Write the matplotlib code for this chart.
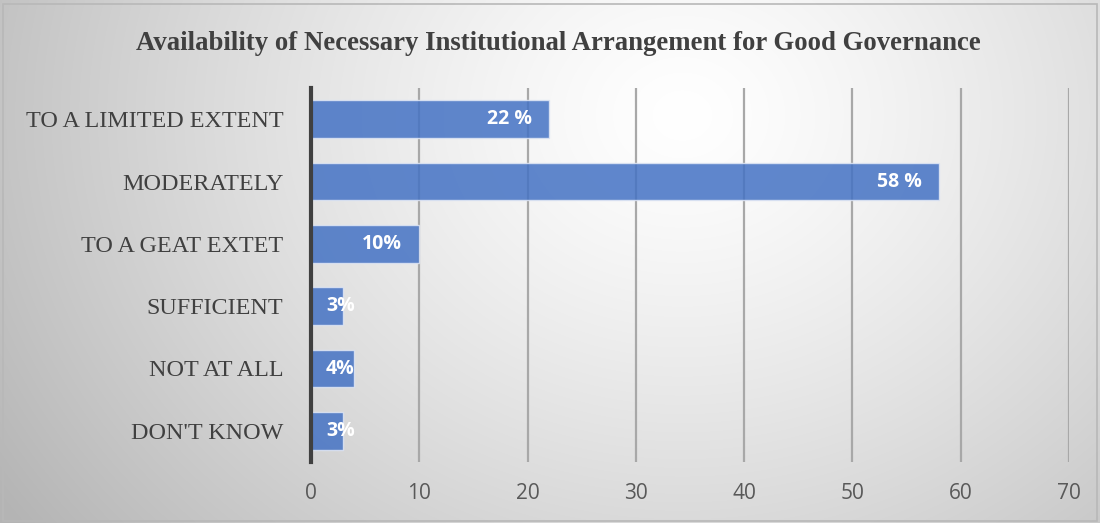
import numpy as np
import matplotlib
matplotlib.use("Agg")
import matplotlib.pyplot as plt
from matplotlib.patches import Rectangle

# survey responses, top to bottom
categories = ["TO A LIMITED EXTENT", "MODERATELY", "TO A GEAT EXTET",
              "SUFFICIENT", "NOT AT ALL", "DON'T KNOW"]
values = [22, 58, 10, 3, 4, 3]
value_labels = ["22 %", "58 %", "10%", "3%", "4%", "3%"]
x_ticks = [0, 10, 20, 30, 40, 50, 60, 70]

W, H = 1100, 523
fig = plt.figure(figsize=(W / 100, H / 100), dpi=100)

# radial grey background, lightest towards the upper middle
yy, xx = np.mgrid[0:H, 0:W]
dist = np.sqrt(((xx - 0.62 * W) / (0.62 * W)) ** 2 + ((yy - 0.22 * H) / (1.1 * H)) ** 2)
shade = 1.0 - 0.23 * np.clip(dist, 0, 1.2) ** 1.3
bg = fig.add_axes([0, 0, 1, 1], zorder=-10)
bg.imshow(np.dstack([shade] * 3), aspect="auto", extent=[0, 1, 0, 1],
          origin="upper", interpolation="bilinear")
bg.add_patch(Rectangle((0.003, 0.004), 0.994, 0.988, fill=False,
                       edgecolor="#b8b8b8", linewidth=1.2))
bg.set_axis_off()

ax = fig.add_axes([311 / W, 1 - 462 / H, 758 / W, 374 / H])
ax.set_facecolor("none")

y = np.arange(len(categories))
ax.barh(y, values, height=0.6, color="#4472C4", alpha=0.85,
        edgecolor="#dfe6f4", linewidth=1.0, zorder=3)

for yi, v, lab in zip(y, values, value_labels):
    if v >= 8:
        ax.annotate(lab, (v, yi), xytext=(-17, 0), textcoords="offset pixels",
                    ha="right", va="center", color="white", fontsize=14,
                    fontweight="bold", family="Open Sans", zorder=4)
    else:
        ax.annotate(lab, (0, yi), xytext=(15, 0), textcoords="offset pixels",
                    ha="left", va="center", color="white", fontsize=14,
                    fontweight="bold", family="Open Sans", zorder=4)

ax.set_xlim(0, 70)
ax.set_ylim(len(categories) - 0.5, -0.5)
ax.set_xticks(x_ticks)
ax.set_xticklabels([str(t) for t in x_ticks], family="Open Sans",
                   fontsize=15, color="#595959")
ax.set_yticks(y)
ax.set_yticklabels(categories, family="Liberation Serif", fontsize=17.4,
                   color="#404040")
ax.tick_params(axis="both", length=0)
ax.tick_params(axis="x", pad=15)
ax.tick_params(axis="y", pad=20)

ax.grid(axis="x", color="#a8a8a8", linewidth=1.6, zorder=1)
ax.set_axisbelow(True)
for side in ["top", "right", "bottom"]:
    ax.spines[side].set_visible(False)
ax.spines["left"].set_color("#404040")
ax.spines["left"].set_linewidth(3)
ax.spines["left"].set_zorder(5)

fig.text(0.508, 1 - 43 / H,
         "Availability of Necessary Institutional Arrangement for Good Governance",
         ha="center", va="center", family="Liberation Serif", fontweight="bold",
         fontsize=19.3, color="#404040")

fig.savefig("out.png", dpi=100)
